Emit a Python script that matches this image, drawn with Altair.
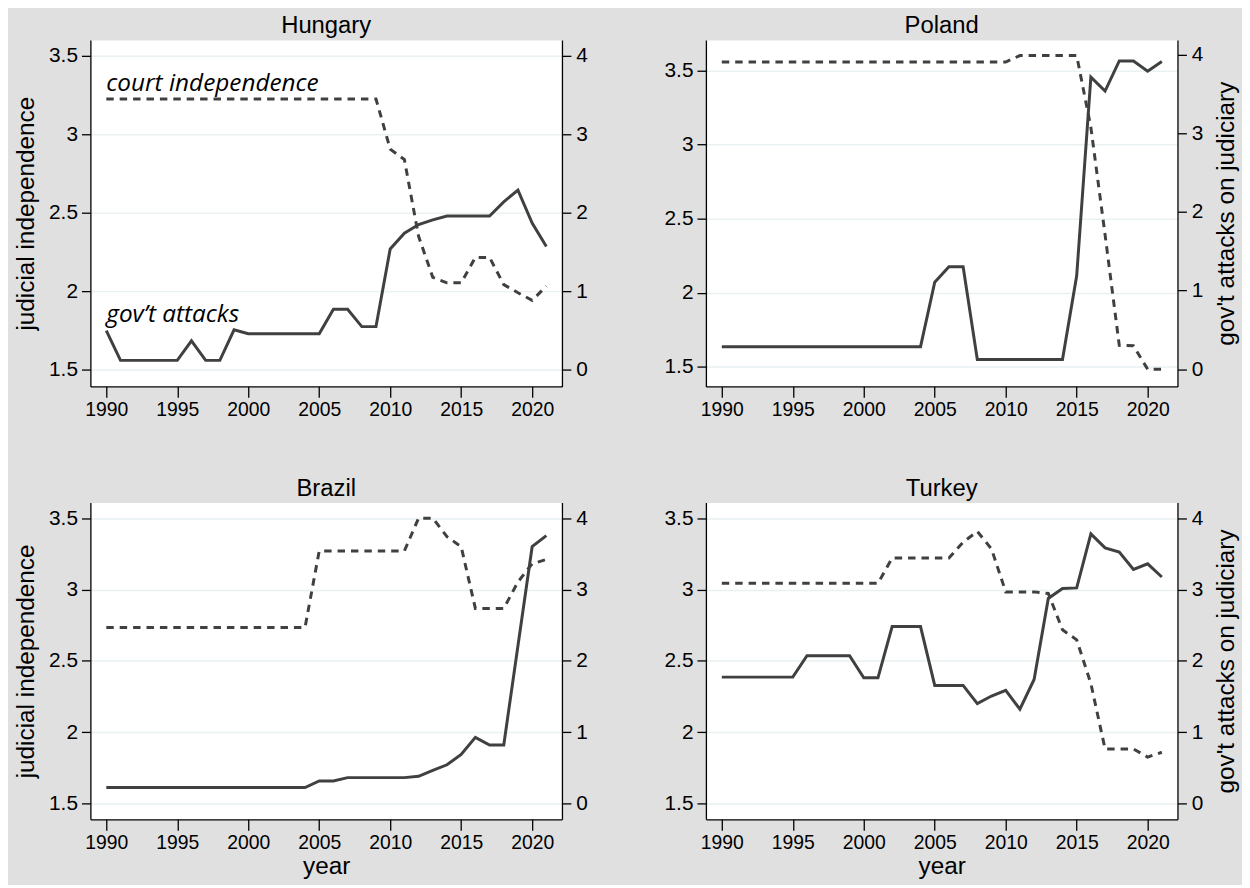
import altair as alt
import pandas as pd

years = list(range(1990, 2022))

hungary_court = [3.225] * 20 + [2.906, 2.839, 2.35, 2.089, 2.054, 2.054, 2.216, 2.216, 2.043, 1.991, 1.942, 2.033]
hungary_attacks = [0.50, 0.12, 0.12, 0.12, 0.12, 0.12, 0.37, 0.12, 0.12, 0.51,
                   0.46, 0.46, 0.46, 0.46, 0.46, 0.46, 0.77, 0.77, 0.55, 0.55,
                   1.54, 1.74, 1.85, 1.91, 1.96, 1.96, 1.96, 1.96, 2.14, 2.29, 1.87, 1.57]

poland_court = [3.556] * 21 + [3.60, 3.60, 3.60, 3.60, 3.60, 3.115, 2.391, 1.645, 1.642, 1.484, 1.484]
poland_attacks = [0.286] * 15 + [1.106, 1.304, 1.304] + [0.122] * 7 + [1.188, 3.717, 3.54, 3.923, 3.923, 3.793, 3.915]

brazil_court = [2.734] * 15 + [3.27] * 7 + [3.5, 3.5, 3.37, 3.30, 2.867, 2.867, 2.867, 3.053, 3.18, 3.21]
brazil_attacks = [0.222] * 15 + [0.315, 0.315] + [0.362] * 5 + [0.38, 0.463, 0.542, 0.686, 0.927, 0.82, 0.82, 2.21, 3.60, 3.754]

turkey_court = [3.043] * 12 + [3.22] * 5 + [3.331, 3.407, 3.284, 2.983, 2.983, 2.983, 2.972, 2.717, 2.647, 2.34, 1.882, 1.882, 1.882, 1.825, 1.859]
turkey_attacks = [1.771] * 6 + [2.072] * 4 + [1.761, 1.761] + [2.48] * 3 + [1.655] * 3 + [1.40, 1.506, 1.585, 1.321, 1.738, 2.874, 3.013, 3.022, 3.778, 3.583, 3.523, 3.282, 3.36, 3.175]

x_ticks = [1990, 1995, 2000, 2005, 2010, 2015, 2020]
left_ticks = [1.5, 2, 2.5, 3, 3.5]
right_ticks = [0, 1, 2, 3, 4]

annot_years = [1990, 1990]
annot_values = [3.279, 1.805]
annot_labels = ["court independence", "gov\u2019t attacks"]

FONT = "Liberation Sans"
LINE = "#404040"
X_DOMAIN = [1988.88, 2022.1]


def panel(name, court, attacks, left_dom, right_dom, height, left_title, right_title, x_title, annotate):
    df = pd.DataFrame({"year": years, "court": court, "attacks": attacks})
    x_axis_kw = dict(values=x_ticks, format="d", tickSize=11, labelPadding=3, grid=False, labelFontSize=19.5)
    if x_title:
        x_axis_kw.update(title="year", titlePadding=3)
    else:
        x_axis_kw.update(title=None)
    x = alt.X("year:Q", scale=alt.Scale(domain=X_DOMAIN, nice=False, zero=False), axis=alt.Axis(**x_axis_kw))

    left_kw = dict(orient="left", values=left_ticks, format="~g", grid=True, tickSize=9, labelPadding=4, labelFontSize=21)
    if left_title:
        left_kw.update(title="judicial independence", titlePadding=10)
    else:
        left_kw.update(title=None)
    right_kw = dict(orient="right", values=right_ticks, format="d", grid=False, tickSize=9, labelPadding=5, labelFontSize=21)
    if right_title:
        right_kw.update(title="gov't attacks on judiciary", titleAngle=270, titleBaseline="top", titlePadding=12)
    else:
        right_kw.update(title=None)

    base = alt.Chart(df)
    dashed = base.mark_line(color=LINE, strokeWidth=3, strokeDash=[7.5, 6]).encode(
        x=x,
        y=alt.Y("court:Q", scale=alt.Scale(domain=left_dom, nice=False, zero=False), axis=alt.Axis(**left_kw)),
    )
    solid = base.mark_line(color=LINE, strokeWidth=3).encode(
        x=x,
        y=alt.Y("attacks:Q", scale=alt.Scale(domain=right_dom, nice=False, zero=False), axis=alt.Axis(**right_kw)),
    )
    layers = [dashed, solid]
    if annotate:
        adf = pd.DataFrame({"year": annot_years, "val": annot_values, "label": annot_labels})
        txt = alt.Chart(adf).mark_text(
            align="left", baseline="alphabetic", font="Open Sans", fontStyle="italic",
            fontSize=24.5, color="black"
        ).encode(
            x=alt.X("year:Q", scale=alt.Scale(domain=X_DOMAIN, nice=False, zero=False)),
            y=alt.Y("val:Q", scale=alt.Scale(domain=left_dom, nice=False, zero=False), axis=None),
            text="label:N",
        )
        layers.append(txt)
    return alt.layer(*layers).resolve_scale(y="independent").properties(
        width=475,
        height=height,
        title=alt.TitleParams(text=name, fontSize=24, font=FONT, fontWeight="normal", color="black",
                              anchor="middle", frame="group", offset=-22, baseline="bottom"),
    )


hun = panel("Hungary", hungary_court, hungary_attacks, [1.394, 3.601], [-0.212, 4.202], 349, True, False, False, True)
pol = panel("Poland", poland_court, poland_attacks, [1.368, 3.705], [-0.22, 4.19], 349, False, True, False, False)
bra = panel("Brazil", brazil_court, brazil_attacks, [1.389, 3.609], [-0.222, 4.218], 319, True, False, True, False)
tur = panel("Turkey", turkey_court, turkey_attacks, [1.389, 3.609], [-0.222, 4.218], 319, False, True, True, False)

chart = alt.concat(hun, pol, bra, tur, columns=2, spacing={"row": 117, "column": 145}, bounds="flush").properties(
    background="#e0e0e0",
    padding={"left": 5, "top": 2, "right": 3, "bottom": 3},
).configure_view(
    fill="white", stroke="transparent"
).configure_axis(
    labelFont=FONT, labelColor="black",
    titleFont=FONT, titleFontSize=24.5, titleFontWeight="normal", titleColor="black",
    domainColor="black", domainWidth=1.3, tickColor="black", tickWidth=1.3,
    gridColor="#e9f1f3", gridWidth=1.5, labelFlush=False,
)

chart.save("out.html", embed_options={"renderer": "svg", "actions": False})
